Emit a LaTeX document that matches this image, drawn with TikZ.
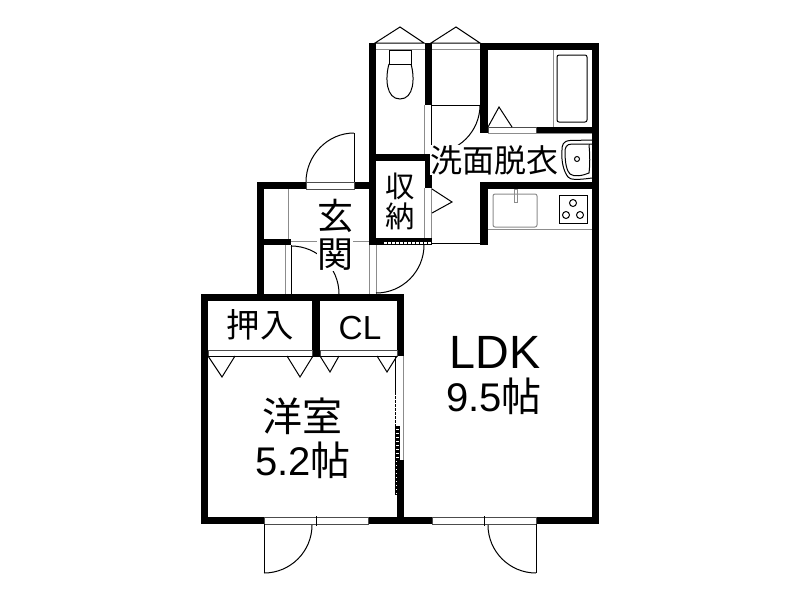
\documentclass[tikz,border=0pt]{standalone}
\usepackage{fontspec}
\setmainfont{Liberation Sans}
\newfontfamily\cjk{Noto Sans CJK JP}
\usepackage{tikz}
\tikzstyle{wall} = [fill=black]
\tikzstyle{frame} = [draw=black!70, line width=0.75pt, fill=white]
\tikzstyle{thin} = [draw=black, line width=0.75pt]
\tikzstyle{pale} = [draw=black!45, line width=0.75pt]
\tikzstyle{room} = [inner sep=0pt, align=center]

\begin{document}
\begin{tikzpicture}[x=0.75pt, y=-0.75pt]
    \useasboundingbox (0, 0) rectangle (800, 600);
    % upper block walls
    \fill[wall] (369, 43) rectangle (376, 245);
    \fill[wall] (425, 43) rectangle (432, 105);
    \fill[wall] (480, 43) rectangle (599, 50);
    \fill[wall] (480, 43) rectangle (488, 133);
    \fill[wall] (592, 43) rectangle (599, 524);
    \fill[wall] (488, 127) rectangle (592, 133);
    \fill[wall] (369, 154) rectangle (432, 161);
    \fill[wall] (425, 154) rectangle (432, 188);
    \fill[wall] (480, 182) rectangle (592, 189);
    \fill[wall] (480, 182) rectangle (488, 245);
    \fill[wall] (369, 238) rectangle (432, 245);
    % entrance walls
    \fill[wall] (257, 182) rectangle (369, 189);
    \fill[wall] (257, 182) rectangle (264, 295);
    \fill[wall] (257, 239) rectangle (291, 245);
    % lower block walls
    \fill[wall] (201, 294) rectangle (404, 301);
    \fill[wall] (201, 294) rectangle (208, 524);
    \fill[wall] (201, 517) rectangle (599, 524);
    \fill[wall] (312, 294) rectangle (320, 356);
    \fill[wall] (397, 294) rectangle (404, 356);
    \fill[wall] (397, 460) rectangle (404, 524);
    % openings in the walls
    \draw[frame] (306, 182) rectangle (354, 189);
    \draw[frame] (488, 127) rectangle (536, 133);
    \draw[frame] (264, 517) rectangle (368, 524);
    \draw[frame] (432, 517) rectangle (536, 524);
    \draw[thin] (316, 516) -- (316, 526);
    \draw[thin] (484, 516) -- (484, 526);
    \draw[frame] (208, 350) rectangle (312, 356);
    \draw[frame] (320, 350) rectangle (397, 356);
    % top doors
    \draw[thin] (375, 43) -- (400, 27) -- (424, 43) -- cycle;
    \draw[thin] (431, 43) -- (456, 27) -- (480, 43) -- cycle;
    \fill[white] (376, 44) rectangle (425, 49);
    \fill[white] (432, 44) rectangle (480, 49);
    \draw[pale] (376, 49.5) -- (425, 49.5);
    \draw[pale] (432, 49.5) -- (480, 49.5);
    % wash room door
    \draw[pale] (424.5, 105) -- (424.5, 154);
    \draw[thin] (431.5, 105) -- (431.5, 153);
    \draw[thin] (432, 105) -- (480, 105);
    \draw[thin] (480, 105) .. controls (480, 131.5) and (458.5, 153) .. (432, 153);
    % bath door
    \draw[thin] (488, 127) -- (499, 107) -- (512, 127);
    % entrance door
    \draw[thin] (354.5, 133) -- (354.5, 182);
    \draw[thin] (354, 133) .. controls (327.5, 133) and (306, 155.5) .. (306, 182);
    % entrance thin lines
    \draw[pale] (288.5, 189) -- (288.5, 239);
    \draw[pale] (285.5, 245) -- (285.5, 294);
    \draw[thin] (291, 245) -- (291, 294);
    \draw[pale] (369.5, 245) -- (369.5, 294);
    \draw[pale] (376, 245) -- (376, 294);
    \draw[pale] (291, 241.5) -- (369, 241.5);
    \draw[thin] (291, 246) .. controls (317.5, 246) and (339, 267.5) .. (339, 294);
    % storage door and hall
    \draw[pale] (424.5, 188) -- (424.5, 238);
    \draw[pale] (431.5, 188) -- (431.5, 238);
    \draw[thin] (432, 189) -- (452, 202) -- (432, 213);
    \draw[white, line width=0.9pt, dash pattern=on 2pt off 1pt] (384, 243) -- (431, 243);
    \draw[thin] (432, 243.5) -- (480, 243.5);
    \draw[thin] (424, 245) .. controls (424, 271.5) and (402.5, 293) .. (376, 293);
    % toilet
    \draw[thin] (389, 50) rectangle (411, 64);
    \draw[thin] (389, 64) .. controls (385, 78) and (386, 99) .. (400, 99)
        .. controls (414, 99) and (415, 78) .. (411, 64);
    % bath
    \draw[pale] (553.5, 50) -- (553.5, 127);
    \draw[thin, rounded corners=1.5pt] (557, 55) rectangle (587, 122);
    % basin
    \draw[pale] (488, 133.5) -- (592, 133.5);
    \draw[thin] (592, 140) -- (570, 140.5) .. controls (563, 141) and (562, 145) .. (562, 150)
        .. controls (561, 162) and (564, 172) .. (568, 177)
        .. controls (570, 180) and (578, 180) .. (592, 178);
    \draw[thin] (592, 144) -- (572, 144) .. controls (566, 144) and (565, 148) .. (565, 152)
        .. controls (565, 164) and (567, 171) .. (570, 174)
        .. controls (574, 177) and (582, 176) .. (589, 173)
        .. controls (590, 165) and (590, 155) .. (589, 145);
    \draw[thin] (577, 159) circle (2.5);
    % kitchen
    \draw[pale] (488, 229) -- (592, 229);
    \draw[pale, rounded corners=1.5pt] (493, 194) rectangle (537, 227);
    \draw[pale] (514, 189) rectangle (517, 202);
    \draw[thin] (559, 195) rectangle (587, 223);
    \draw[thin] (573, 203) circle (3.5);
    \draw[thin] (566, 215) circle (3.5);
    \draw[thin] (580, 215) circle (3.5);
    % closet doors
    \draw[thin] (208, 356) -- (397, 356);
    \draw[thin] (208, 356) -- (222, 377) -- (235, 356);
    \draw[thin] (287, 356) -- (300, 377) -- (313, 356);
    \draw[thin] (320, 356) -- (330, 372) -- (339, 356);
    \draw[thin] (377, 356) -- (387, 372) -- (397, 356);
    % sliding door
    \draw[thin] (395.5, 356) -- (395.5, 392);
    \draw[pale] (403.5, 356) -- (403.5, 460);
    \draw[black, line width=1.2pt, dash pattern=on 2pt off 1pt] (395.5, 392) -- (395.5, 426);
    \draw[thin] (395.5, 426) -- (395.5, 495);
    \draw[thin] (399, 426) -- (399, 495);
    \draw[black, line width=2.6pt, dash pattern=on 2pt off 1pt] (397.3, 426) -- (397.3, 495);
    % balcony doors
    \draw[thin] (264.5, 524) -- (264.5, 573);
    \draw[thin] (264, 573) .. controls (290.5, 573) and (312, 551.5) .. (312, 525);
    \draw[thin] (536.5, 524) -- (536.5, 573);
    \draw[thin] (536, 573) .. controls (509.5, 573) and (488, 551.5) .. (488, 525);
    % labels
    \node[room, fill=white, font=\cjk\fontsize{24}{24}\selectfont] (Senmen) at (494, 160) {洗面脱衣};
    \node[room, fill=white, font=\cjk\fontsize{27}{28.5}\selectfont] (Genkan) at (335, 235) {玄\\関};
    \node[room, font=\cjk\fontsize{22}{22.5}\selectfont] (Shuno) at (400, 201) {収\\納};
    \node[room, font=\cjk\fontsize{25}{25}\selectfont] (Oshiire) at (260, 325) {押入};
    \node[room, font=\fontsize{25}{25}\selectfont] (CL) at (360, 328) {CL};
    \node[room, font=\fontsize{35}{36}\selectfont] (LDK) at (495, 352) {LDK};
    \node[room, font=\fontsize{30}{30}\selectfont] (LDKsize) at (494, 396) {9.5{\cjk 帖}};
    \node[room, font=\cjk\fontsize{30}{30}\selectfont] (Yoshitsu) at (302, 416) {洋室};
    \node[room, font=\fontsize{30}{30}\selectfont] (Yosize) at (303, 460) {5.2{\cjk 帖}};
\end{tikzpicture}
\end{document}
